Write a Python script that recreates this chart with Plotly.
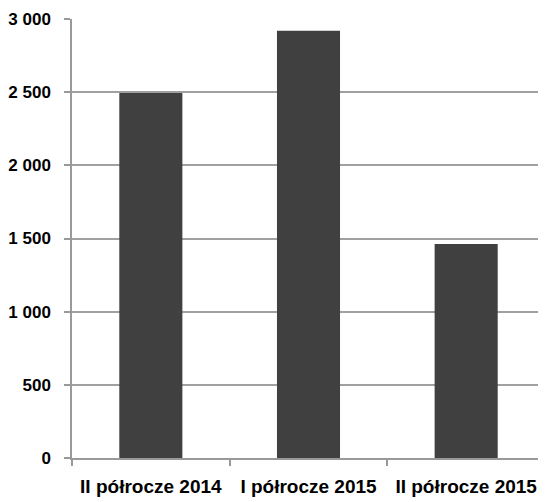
import plotly.graph_objects as go

categories = ["II półrocze 2014", "I półrocze 2015", "II półrocze 2015"]
values = [2495, 2920, 1462]
y_ticks = [0, 500, 1000, 1500, 2000, 2500, 3000]
y_tick_labels = ["0", "500", "1 000", "1 500", "2 000", "2 500", "3 000"]

FONT = "Liberation Sans, Arial, sans-serif"

fig = go.Figure(go.Bar(x=categories, y=values, marker=dict(color="#404040", line=dict(width=0))))

# page body has an 8px default margin, so the figure is sized to fit the 546x502 window
fig.update_layout(
    width=538, height=494,
    margin=dict(l=64, r=1, t=11, b=44),
    plot_bgcolor="white", paper_bgcolor="white",
    bargap=0.6,
    showlegend=False,
    font=dict(family=FONT, color="black", size=19),
)
fig.update_xaxes(
    showline=True, linecolor="#999999", linewidth=1.5,
    ticks="outside", tickson="boundaries", ticklen=6, tickcolor="#999999", tickwidth=1.5,
    ticklabelstandoff=10,
    tickfont=dict(family=FONT, size=19, color="black", weight="bold"),
    tickangle=0, automargin=False,
    showgrid=False,
)
fig.update_yaxes(
    range=[0, 3000], tickvals=y_ticks, ticktext=y_tick_labels,
    showline=True, linecolor="#999999", linewidth=1.5,
    ticks="outside", ticklen=6, tickcolor="#999999", tickwidth=1.5,
    ticklabelstandoff=10, automargin=False,
    tickfont=dict(family=FONT, size=17, color="black", weight="bold"),
    showgrid=True, gridcolor="#a0a0a0", gridwidth=1.5,
    zeroline=False,
)
fig.write_html("out.html")
